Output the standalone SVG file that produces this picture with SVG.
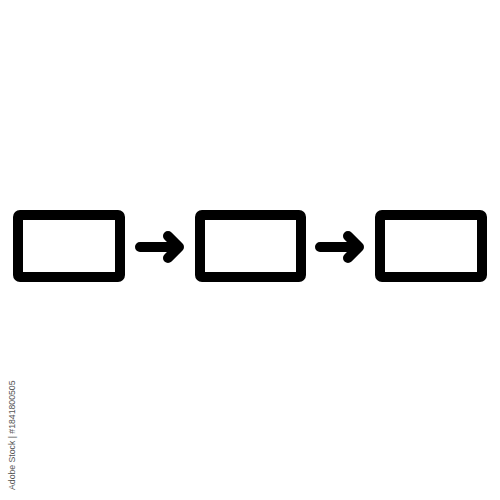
<svg xmlns="http://www.w3.org/2000/svg" width="500" height="500" viewBox="0 0 500 500">
<style>
.box{fill:#fff;stroke:#000;stroke-width:10;stroke-linejoin:round}
.conn{fill:none;stroke:#000;stroke-width:10;stroke-linecap:round;stroke-linejoin:round}
.credit{font-family:"Liberation Sans",Arial,sans-serif;font-size:8.7px;fill:#555}
</style>
<rect width="500" height="500" fill="#fff"/>
<g id="node1"><rect class="box" x="18" y="215" width="102" height="62" rx="2"/></g>
<g id="node2"><rect class="box" x="200" y="215" width="101" height="62" rx="2"/></g>
<g id="node3"><rect class="box" x="380" y="215" width="102" height="62" rx="2"/></g>
<g id="connectors">
<path class="conn" d="M140 247 H178 M168 236 L179 247 L168 258"/>
<path class="conn" d="M320 247 H358 M348 236 L359 247 L348 258"/>
</g>
<text class="credit" transform="translate(15 490) rotate(-90)">Adobe Stock | #1841800505</text>
</svg>
